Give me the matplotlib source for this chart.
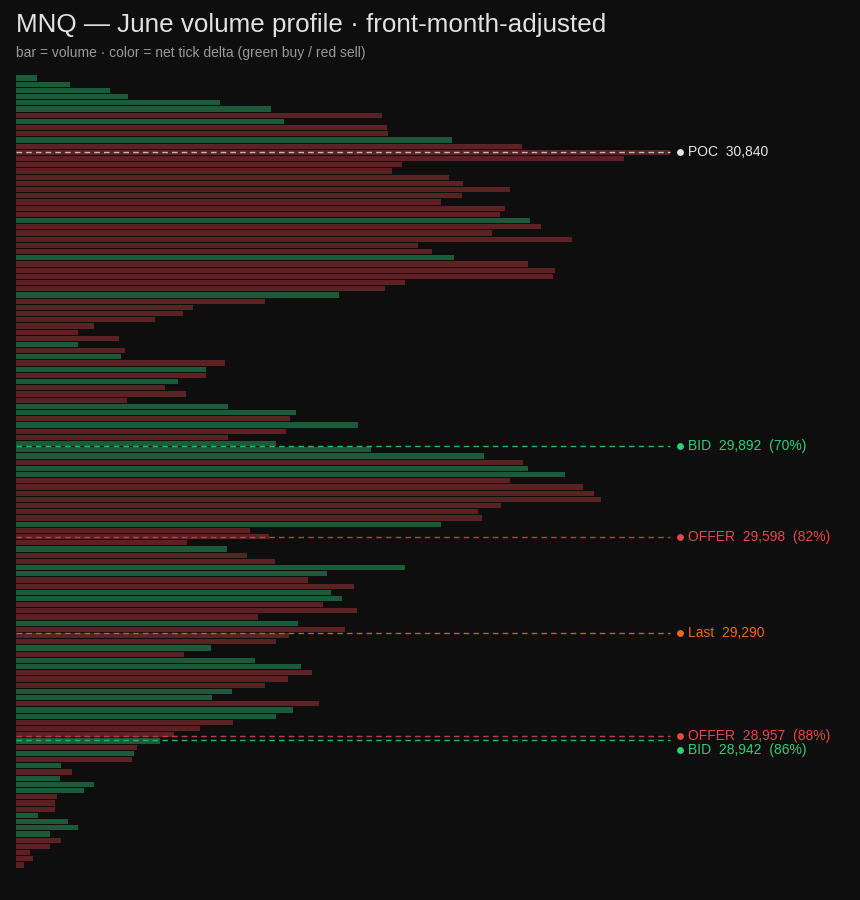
import matplotlib
matplotlib.use("Agg")
import matplotlib.pyplot as plt
from matplotlib.transforms import blended_transform_factory, offset_copy

# price levels, top to bottom, 20-point rows
top_price = 31080
tick = 20

volume = [21, 54, 94, 112, 204, 255, 366, 268, 371, 372,
          436, 506, 654, 608, 386, 376, 433, 447, 494, 446,
          425, 489, 484, 514, 525, 476, 556, 402, 416, 438,
          512, 539, 537, 389, 369, 323, 249, 177, 167, 139,
          78, 62, 103, 62, 109, 105, 209, 190, 190, 162,
          149, 170, 111, 212, 280, 274, 342, 270, 212, 260,
          355, 468, 507, 512, 549, 494, 567, 578, 585, 485,
          462, 466, 425, 234, 253, 171, 211, 231, 259, 389,
          311, 292, 338, 315, 326, 307, 341, 242, 282, 329,
          273, 260, 195, 168, 239, 285, 296, 272, 249, 216,
          196, 303, 277, 260, 217, 184, 158, 144, 121, 118,
          116, 45, 56, 44, 78, 68, 41, 39, 39, 22,
          52, 62, 34, 45, 34, 14, 17, 8]

# net tick delta sign per row: "B" buy, "S" sell
delta = list("BBBBBBSBSS"
             "BSSSSSSSSS"
             "SSSBSSSSSB"
             "SSSSSBSSSS"
             "SSSBSBSBSB"
             "SSSBBSBSSB"
             "BBSBBSSSSS"
             "SSBSSSBSSB"
             "BSSBBSSSBS"
             "SSBSBBSSSB"
             "BSBBSSSBSB"
             "SBSBBBSSSB"
             "BBBSSSSS")

prices = [top_price - i * tick for i in range(len(volume))]

levels = [
    ("POC  30,840", 30840, "#e6e6e6", "#bdbdbd"),
    ("BID  29,892  (70%)", 29892, "#2fcf79", "#22b866"),
    ("OFFER  29,598  (82%)", 29598, "#e8474a", "#c43c3e"),
    ("Last  29,290", 29290, "#f0661c", "#d8581a"),
    ("OFFER  28,957  (88%)", 28957, "#e8474a", "#c43c3e"),
    ("BID  28,942  (86%)", 28942, "#2fcf79", "#22b866"),
]
# labels pushed apart where two levels sit too close
label_nudge = {28942: -10}

bg = "#0e0e0e"
buy_color = "#1b5b3a"
sell_color = "#5a2222"

plt.rcParams["font.family"] = ["Liberation Sans", "DejaVu Sans"]

fig = plt.figure(figsize=(8.6, 9.0), dpi=100, facecolor=bg)
ax = fig.add_axes([16 / 860, 32 / 900, 654 / 860, 793 / 900])
ax.set_facecolor(bg)

colors = [buy_color if d == "B" else sell_color for d in delta]
ax.barh(prices, volume, height=tick * 0.84, color=colors, linewidth=0,
        align="center", zorder=2)

xmax = max(volume)
ax.set_xlim(0, xmax)
ax.set_ylim(prices[-1] - tick / 2, prices[0] + tick / 2)

trans = blended_transform_factory(ax.transAxes, ax.transData)
for text, price, color, line_color in levels:
    ax.plot([0, 1], [price, price], transform=trans, color=line_color,
            linestyle=(0, (4, 3)), linewidth=1.0, zorder=3, clip_on=False)
    dy = label_nudge.get(price, 0)
    t = offset_copy(trans, fig=fig, x=0, y=dy, units="dots")
    ax.scatter([1 + 10 / 654], [price], transform=t, s=24, color=color,
               zorder=4, clip_on=False, linewidths=0)
    ax.text(1 + 18 / 654, price, text, transform=t, color=color,
            fontsize=10, va="center", ha="left", clip_on=False)

for s in ax.spines.values():
    s.set_visible(False)
ax.set_xticks([])
ax.set_yticks([])

fig.text(16 / 860, 1 - 25 / 900, "MNQ — June volume profile · front-month-adjusted",
         color="#e2e2e2", fontsize=18.7, va="center", ha="left")
fig.text(16 / 860, 1 - 53 / 900,
         "bar = volume · color = net tick delta (green buy / red sell)",
         color="#9a9a9a", fontsize=10, va="center", ha="left")

fig.savefig("out.png", dpi=100, facecolor=bg)
